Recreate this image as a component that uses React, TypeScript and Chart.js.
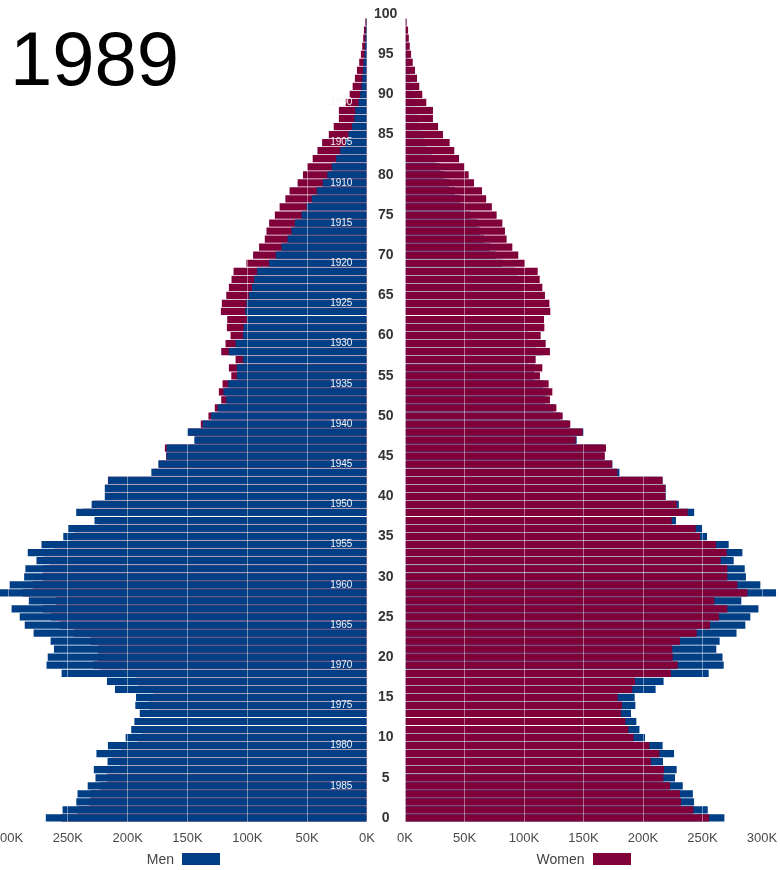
import { useEffect, useRef } from 'react';
import { Chart, registerables } from 'chart.js';

Chart.register(...registerables);

const SURVEY_YEAR = 1989;

const AGES = [
  0, 1, 2, 3, 4, 5, 6, 7, 8, 9, 10, 11, 12, 13, 14, 15, 16, 17, 18, 19,
  20, 21, 22, 23, 24, 25, 26, 27, 28, 29, 30, 31, 32, 33, 34, 35, 36, 37, 38, 39,
  40, 41, 42, 43, 44, 45, 46, 47, 48, 49, 50, 51, 52, 53, 54, 55, 56, 57, 58, 59,
  60, 61, 62, 63, 64, 65, 66, 67, 68, 69, 70, 71, 72, 73, 74, 75, 76, 77, 78, 79,
  80, 81, 82, 83, 84, 85, 86, 87, 88, 89, 90, 91, 92, 93, 94, 95, 96, 97, 98, 99,
];

// population in thousands, by age 0..99
const MEN_K = [
  268.4, 254.4, 242.9, 241.9, 233.4, 226.9, 228.3, 216.8, 226.1, 216.5,
  201.7, 197.0, 194.4, 189.9, 193.6, 193.0, 210.6, 217.3, 255.2, 267.8,
  266.8, 261.6, 264.4, 278.6, 286.0, 290.2, 297.0, 282.6, 311.8, 298.6,
  286.5, 285.5, 276.2, 283.5, 272.0, 253.8, 249.6, 227.7, 243.0, 230.1,
  219.1, 219.1, 216.3, 180.2, 174.3, 167.5, 167.5, 144.3, 150.0, 137.3,
  130.3, 124.7, 117.6, 119.9, 116.0, 108.7, 108.7, 103.7, 115.5, 109.8,
  103.7, 103.1, 100.3, 101.7, 100.8, 98.7, 96.1, 94.4, 91.9, 81.8,
  76.2, 71.4, 66.4, 63.0, 60.3, 54.6, 50.4, 46.2, 42.0, 37.0,
  33.1, 29.4, 25.8, 22.4, 18.2, 15.4, 12.6, 10.6, 9.8, 7.0,
  5.6, 4.7, 3.9, 3.3, 2.8, 2.2, 1.7, 1.4, 1.1, 0.8,
];

const WOMEN_K = [
  255.5, 242.3, 231.9, 231.1, 222.7, 217.1, 217.6, 206.7, 213.7, 205.3,
  191.9, 187.7, 185.2, 181.5, 182.4, 178.7, 191.0, 193.3, 223.5, 229.1,
  225.0, 224.6, 231.1, 245.1, 256.3, 263.9, 270.9, 259.9, 287.7, 279.3,
  270.9, 270.9, 265.3, 270.3, 261.3, 247.9, 244.3, 224.1, 237.5, 228.3,
  218.8, 218.8, 216.5, 178.4, 174.0, 167.9, 168.9, 143.4, 149.3, 138.9,
  132.5, 127.2, 121.8, 123.8, 120.7, 113.4, 115.4, 109.8, 121.8, 118.2,
  114.0, 117.1, 116.8, 122.1, 121.3, 117.6, 115.4, 113.2, 111.5, 100.8,
  95.2, 90.2, 85.4, 84.0, 81.8, 77.0, 73.0, 68.2, 64.7, 58.0,
  53.5, 49.9, 45.4, 41.4, 37.5, 31.9, 27.8, 23.5, 23.5, 17.9,
  14.5, 12.0, 10.1, 8.4, 6.5, 5.1, 4.0, 3.2, 2.6, 1.4,
];

const BIRTH_YEARS = [
  1900, 1905, 1910, 1915, 1920, 1925, 1930, 1935, 1940, 1945,
  1950, 1955, 1960, 1965, 1970, 1975, 1980, 1985,
];

const MEN_LABEL = 'Men';
const WOMEN_LABEL = 'Women';
const MEN_COLOR = '#003E85';
const WOMEN_COLOR = '#80003A';
const FONT = "'Liberation Sans', Arial, Helvetica, sans-serif";

const birthYearPlugin = {
  id: 'birthYears',
  afterDatasetsDraw(chart: any) {
    const { ctx } = chart;
    const x = chart.scales.x;
    const y = chart.scales.y;
    ctx.save();
    ctx.fillStyle = '#f4f4f4';
    ctx.font = `10px ${FONT}`;
    ctx.textAlign = 'center';
    ctx.textBaseline = 'middle';
    BIRTH_YEARS.forEach((yr) => {
      ctx.fillText(String(yr), x.getPixelForValue(21.5), y.getPixelForValue(SURVEY_YEAR - yr));
    });
    ctx.restore();
  },
};

function barDataset(label: string, data: number[], color: string) {
  return {
    label,
    data,
    backgroundColor: color,
    borderWidth: 0,
    grouped: false,
    barPercentage: 0.9,
    categoryPercentage: 1,
    clip: false as any,
  };
}

function zeroPadding(s: any) {
  s.paddingLeft = 0;
  s.paddingRight = 0;
  s.paddingTop = 0;
  s.paddingBottom = 0;
}

function xScale(reverse: boolean) {
  return {
    type: 'linear' as const,
    reverse,
    min: 0,
    max: 300,
    offset: false,
    ticks: {
      stepSize: 50,
      autoSkip: false,
      maxRotation: 0,
      padding: 9,
      color: '#4a4a4a',
      font: { size: 13, family: FONT },
      callback: (v: any) => `${v}K`,
    },
    grid: { color: 'rgba(255,255,255,0.42)', lineWidth: 1, drawTicks: false, z: 1, offset: false },
    border: { display: false },
    afterFit: (s: any) => {
      s.height = 20;
      zeroPadding(s);
    },
  };
}

function yScale(show: boolean) {
  return {
    type: 'linear' as const,
    display: show,
    position: 'right' as const,
    min: -0.5,
    max: 100.5,
    offset: false,
    ticks: {
      stepSize: 5,
      includeBounds: false,
      autoSkip: false,
      crossAlign: 'center' as const,
      padding: 7,
      color: '#333333',
      font: { size: 14, weight: 'bold' as const, family: FONT },
      callback: (v: any) => String(v),
    },
    grid: { display: false, drawTicks: false, offset: false },
    border: { display: false },
    afterFit: (s: any) => {
      if (show) s.width = 38;
      zeroPadding(s);
    },
  };
}

export default function App() {
  const leftRef = useRef<HTMLCanvasElement | null>(null);
  const rightRef = useRef<HTMLCanvasElement | null>(null);

  useEffect(() => {
    Chart.defaults.font.family = FONT;
    const common = {
      indexAxis: 'y' as const,
      animation: false as const,
      responsive: false,
      maintainAspectRatio: false,
      plugins: { legend: { display: false }, tooltip: { enabled: false } },
    };
    const left = new Chart(leftRef.current as HTMLCanvasElement, {
      type: 'bar',
      data: {
        labels: AGES,
        datasets: [
          barDataset(MEN_LABEL, MEN_K, MEN_COLOR),
          barDataset(WOMEN_LABEL, WOMEN_K, WOMEN_COLOR),
        ],
      },
      options: {
        ...common,
        layout: { padding: { left: 8, right: 0, top: 10, bottom: 28 }, autoPadding: false },
        scales: { x: xScale(true), y: yScale(true) },
      } as any,
      plugins: [birthYearPlugin],
    });
    const right = new Chart(rightRef.current as HTMLCanvasElement, {
      type: 'bar',
      data: {
        labels: AGES,
        datasets: [
          barDataset(WOMEN_LABEL, WOMEN_K, WOMEN_COLOR),
          barDataset(MEN_LABEL, MEN_K, MEN_COLOR),
        ],
      },
      options: {
        ...common,
        layout: { padding: { left: 20, right: 18, top: 10, bottom: 28 }, autoPadding: false },
        scales: { x: xScale(false), y: yScale(false) },
      } as any,
    });
    return () => {
      left.destroy();
      right.destroy();
    };
  }, []);

  const legendText = {
    position: 'absolute' as const,
    top: 850,
    lineHeight: '18px',
    fontSize: 14,
    color: '#444',
    whiteSpace: 'nowrap' as const,
    fontFamily: FONT,
  };

  return (
    <div
      style={{
        position: 'fixed',
        left: 0,
        top: 0,
        width: 780,
        height: 870,
        overflow: 'hidden',
        background: '#fff',
        fontFamily: FONT,
      }}
    >
      <canvas
        ref={leftRef}
        width={405}
        height={870}
        style={{ position: 'absolute', left: 0, top: 0, width: 405, height: 870 }}
      />
      <canvas
        ref={rightRef}
        width={395}
        height={870}
        style={{ position: 'absolute', left: 385, top: 0, width: 395, height: 870 }}
      />
      <div
        style={{
          position: 'absolute',
          left: 10,
          top: 21,
          fontSize: 76,
          lineHeight: '76px',
          color: '#000',
          fontFamily: FONT,
        }}
      >
        {SURVEY_YEAR}
      </div>
      <div style={{ ...legendText, right: 606 }}>{MEN_LABEL}</div>
      <div style={{ position: 'absolute', left: 182, top: 852.5, width: 38, height: 12, background: MEN_COLOR }} />
      <div style={{ ...legendText, right: 195.5 }}>{WOMEN_LABEL}</div>
      <div style={{ position: 'absolute', left: 592.5, top: 852.5, width: 38, height: 12, background: WOMEN_COLOR }} />
    </div>
  );
}
